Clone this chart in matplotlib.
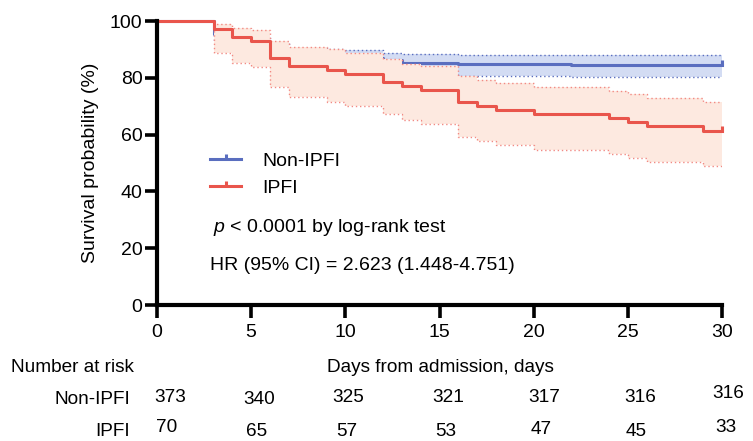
import numpy as np
import matplotlib
matplotlib.use("Agg")
import matplotlib.pyplot as plt
from matplotlib.path import Path
from matplotlib.lines import Line2D

plt.rcParams['font.family'] = ['Liberation Sans', 'DejaVu Sans']
plt.rcParams['mathtext.fontset'] = 'custom'
plt.rcParams['mathtext.it'] = 'Liberation Sans:italic'
plt.rcParams['mathtext.rm'] = 'Liberation Sans'

# --- Kaplan-Meier data ---
dias_no = [0, 3, 4, 5, 6, 7, 9, 10, 12, 13, 16, 22, 30]
surv_no = [100, 95.4, 93.5, 91.2, 89.5, 88.5, 87.7, 86.9, 86.1, 85.3, 84.8, 84.5, 84.5]
sup_no = [100, 97.5, 96.0, 94.0, 92.5, 90.6, 90.0, 89.7, 88.8, 88.4, 88.0, 88.0, 88.0]
inf_no = [100, 93.0, 90.8, 88.2, 86.3, 85.1, 84.2, 83.3, 82.4, 81.6, 80.7, 80.4, 80.4]

dias_ipfi = [0, 3, 4, 5, 6, 7, 9, 10, 12, 13, 14, 16, 17, 18, 20, 24, 25, 26, 29, 30]
surv_ipfi = [100, 97.1, 94.3, 92.9, 87.1, 84.3, 82.9, 81.4, 78.6, 77.1, 75.7,
             71.4, 70.0, 68.6, 67.1, 65.7, 64.3, 62.9, 61.4, 61.4]
sup_ipfi = [100, 99.0, 97.5, 96.8, 93.1, 90.7, 90.0, 88.8, 86.5, 85.0, 84.1,
            80.6, 79.2, 78.0, 76.6, 75.4, 74.2, 72.8, 71.5, 71.5]
inf_ipfi = [100, 88.8, 85.3, 83.7, 76.8, 73.3, 71.5, 70.1, 67.1, 65.3, 63.9,
            59.2, 57.8, 56.3, 54.7, 53.3, 51.9, 50.3, 49.0, 49.0]

grupos = ['Non-IPFI', 'IPFI']
dias_tabla = [0, 5, 10, 15, 20, 25, 30]
riesgo_no = [373, 340, 325, 321, 317, 316, 316]
riesgo_ipfi = [70, 65, 57, 53, 47, 45, 33]

# --- layout of the risk table (pixel positions, fig is 753x441) ---
x_no = [170, 259, 348, 448, 544, 640, 728]
y_no = [398, 400, 397, 398, 397, 398, 393]
x_ipfi = [167, 257, 347, 446, 541, 636, 726]
y_ipfi = [428, 432, 432, 432, 430, 432, 428]

AZUL = '#5a6ebf'
ROJO = '#e9554c'
AZUL_FILL = '#d3dcf3'
ROJO_FILL = '#fde9e0'

# marca de censura: palito vertical hacia arriba
censura = Path([(0, 0), (0, 1)], [Path.MOVETO, Path.LINETO])

W, H = 753, 441
fig = plt.figure(figsize=(W / 100, H / 100), dpi=100)
ax = fig.add_axes([157 / W, 1 - 305 / H, 565 / W, 284 / H])

# Non-IPFI (debajo)
ax.fill_between(dias_no, inf_no, sup_no, step='post', color=AZUL_FILL, lw=0, zorder=1)
ax.step(dias_no, sup_no, where='post', color=AZUL, lw=1, ls=(0, (1, 2)), zorder=2)
ax.step(dias_no, inf_no, where='post', color=AZUL, lw=1, ls=(0, (1, 2)), zorder=2)
ax.step(dias_no, surv_no, where='post', color=AZUL, lw=2.2, zorder=3,
        marker=censura, markevery=[-1], markersize=7, mew=2.2, clip_on=False)

# IPFI (encima)
ax.fill_between(dias_ipfi, inf_ipfi, sup_ipfi, step='post', color=ROJO_FILL, lw=0, zorder=4)
ax.step(dias_ipfi, sup_ipfi, where='post', color='#f28a84', lw=1, ls=(0, (1, 2)), zorder=5)
ax.step(dias_ipfi, inf_ipfi, where='post', color='#f28a84', lw=1, ls=(0, (1, 2)), zorder=5)
ax.step(dias_ipfi, surv_ipfi, where='post', color=ROJO, lw=2.2, zorder=6,
        marker=censura, markevery=[-1], markersize=7, mew=2.2, clip_on=False)

ax.set_xlim(0, 30)
ax.set_ylim(0, 100)
ax.set_xticks(dias_tabla)
ax.set_yticks([0, 20, 40, 60, 80, 100])
for s in ['top', 'right']:
    ax.spines[s].set_visible(False)
for s in ['left', 'bottom']:
    ax.spines[s].set_linewidth(3)
    ax.spines[s].set_zorder(10)
ax.tick_params(width=2.6, length=9, labelsize=14)
ax.tick_params(axis='y', pad=1.5)
ax.tick_params(axis='x', pad=4.5)
ax.set_ylabel('Survival probability (%)', fontsize=14, labelpad=8)

# leyenda
h = [Line2D([], [], color=AZUL, lw=2.2, marker=censura, markersize=7, mew=2.2),
     Line2D([], [], color=ROJO, lw=2.2, marker=censura, markersize=7, mew=2.2)]
ax.legend(h, grupos, loc='upper left', bbox_to_anchor=(0.063, 0.598), frameon=False,
          fontsize=14, numpoints=1, handlelength=1.6, handletextpad=1.1,
          labelspacing=0.45)

fig.text(213 / W, 1 - 228 / H, r'$\it{p}$ < 0.0001 by log-rank test', fontsize=14,
         va='center', ha='left')
fig.text(210 / W, 1 - 265 / H, 'HR (95% CI) = 2.623 (1.448-4.751)', fontsize=14,
         va='center', ha='left')

# tabla de riesgo
fig.text(11 / W, 1 - 367 / H, 'Number at risk', fontsize=13.7, va='center', ha='left')
fig.text(440 / W, 1 - 367 / H, 'Days from admission, days', fontsize=13.7,
         va='center', ha='center')
fig.text(130 / W, 1 - 400 / H, grupos[0], fontsize=13.7, va='center', ha='right')
fig.text(130 / W, 1 - 432 / H, grupos[1], fontsize=13.7, va='center', ha='right')
for v, x, y in zip(riesgo_no, x_no, y_no):
    fig.text(x / W, 1 - y / H, str(v), fontsize=13.7, va='center', ha='center')
for v, x, y in zip(riesgo_ipfi, x_ipfi, y_ipfi):
    fig.text(x / W, 1 - y / H, str(v), fontsize=13.7, va='center', ha='center')

fig.savefig('out.png', dpi=100)
